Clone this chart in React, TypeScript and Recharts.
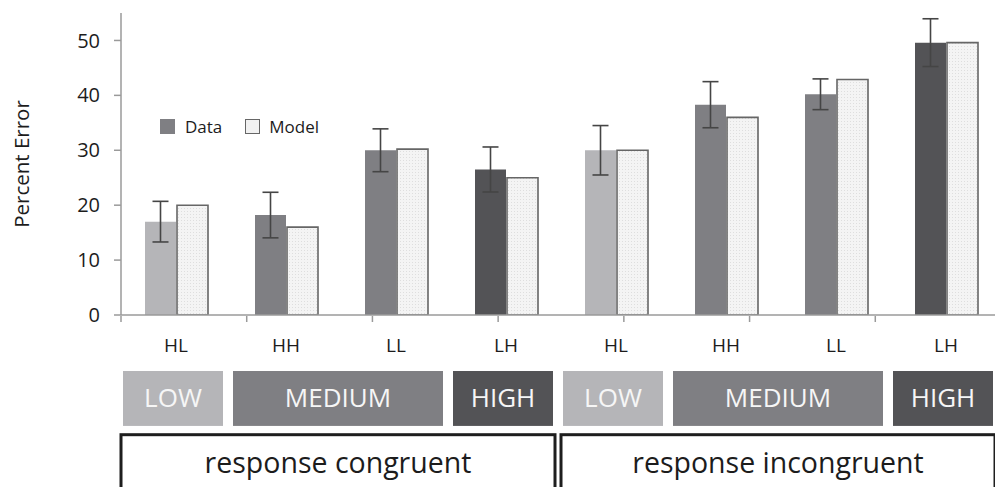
import React from "react";
import { BarChart, Bar, XAxis, YAxis, ErrorBar, Cell, ReferenceArea } from "recharts";

// conditions along the x axis (two blocks of four)
const conditions = ["HL", "HH", "LL", "LH", "HL", "HH", "LL", "LH"];
const loads = ["LOW", "MEDIUM", "MEDIUM", "HIGH", "LOW", "MEDIUM", "MEDIUM", "HIGH"];
const dataValues = [17.0, 18.2, 30.0, 26.5, 30.0, 38.3, 40.2, 49.6];
const dataErrors = [3.7, 4.15, 3.9, 4.1, 4.5, 4.2, 2.8, 4.35];
const modelValues = [20.0, 16.0, 30.2, 25.0, 30.0, 36.0, 42.9, 49.6];
const seriesNames = ["Data", "Model"];
const yTicks = [0, 10, 20, 30, 40, 50];
const edgeTicks = [0, 1, 2, 3, 4, 5, 6, 7, 8];

// load bands and response groups drawn under the axis
const bandLabels = ["LOW", "MEDIUM", "HIGH", "LOW", "MEDIUM", "HIGH"];
const bandFrom = [0, 1, 3, 4, 5, 7];
const bandTo = [0, 2, 3, 4, 6, 7];
const groupLabels = ["response congruent", "response incongruent"];
const groupFrom = [0, 4];
const groupTo = [3, 7];

const loadColor: Record<string, string> = {
  LOW: "#b5b5b8",
  MEDIUM: "#7f7f83",
  HIGH: "#535356",
};

const FONT = "'Open Sans', 'Noto Sans', sans-serif";
const AXIS = "#9a9a9a";
const INK = "#1c1c1c";

const rows = conditions.map((c, i) => ({
  id: `c${i}`,
  label: c,
  load: loads[i],
  data: dataValues[i],
  err: dataErrors[i],
  model: modelValues[i],
}));

const labelOf = (id: string) => rows.find((r) => r.id === id)?.label ?? "";

export default function App() {
  return (
    <div
      style={{
        position: "absolute",
        left: 0,
        top: 0,
        width: 995,
        height: 487,
        overflow: "hidden",
        background: "#fff",
        fontFamily: FONT,
      }}
    >
      <BarChart
        width={1010}
        height={487}
        data={rows}
        margin={{ top: 13, right: 9, bottom: 170, left: 0 }}
        barSize={31}
        barGap={1}
      >
        <defs>
          <pattern id="modelDots" width="3" height="3" patternUnits="userSpaceOnUse">
            <rect width="3" height="3" fill="#f4f4f4" />
            <rect x="1" y="1" width="1" height="1" fill="#dedede" />
          </pattern>
        </defs>
        <XAxis
          xAxisId="edges"
          type="number"
          domain={[0, 8]}
          ticks={edgeTicks}
          allowDataOverflow
          height={1}
          axisLine={false}
          tickLine={{ stroke: AXIS, strokeWidth: 1.5 }}
          tickSize={6}
          tickFormatter={() => ""}
        />
        <XAxis
          xAxisId="cat"
          dataKey="id"
          height={1}
          axisLine={{ stroke: AXIS, strokeWidth: 1.5 }}
          tickLine={false}
          tickSize={6}
          tickMargin={18}
          tickFormatter={labelOf}
          tick={{ fontSize: 19, fill: INK, fontFamily: FONT }}
          interval={0}
        />
        <YAxis
          width={121}
          domain={[0, 55]}
          ticks={yTicks}
          allowDataOverflow
          axisLine={{ stroke: AXIS, strokeWidth: 1.5 }}
          tickLine={{ stroke: AXIS, strokeWidth: 1.5 }}
          tickSize={7}
          tickMargin={14}
          tick={{ fontSize: 20, fill: INK, fontFamily: FONT }}
          label={{
            value: "Percent Error",
            angle: -90,
            position: "insideLeft",
            offset: 22,
            textAnchor: "middle",
            style: { fontSize: 20.5, fill: INK, fontFamily: FONT },
          }}
        />
        <Bar xAxisId="cat" dataKey="data" name={seriesNames[0]} isAnimationActive={false}>
          {rows.map((r) => (
            <Cell key={r.id} fill={loadColor[r.load]} />
          ))}
          <ErrorBar dataKey="err" width={8} stroke="#454545" strokeWidth={1.6} />
        </Bar>
        <Bar
          xAxisId="cat"
          dataKey="model"
          name={seriesNames[1]}
          fill="url(#modelDots)"
          stroke="#666"
          strokeWidth={1.6}
          isAnimationActive={false}
        />
        {bandLabels.map((b, i) => (
          <ReferenceArea
            key={`band-${i}`}
            xAxisId="cat"
            x1={rows[bandFrom[i]].id}
            x2={rows[bandTo[i]].id}
            y1={-10.2}
            y2={-20.2}
            ifOverflow="visible"
            shape={(p: any) => (
              <g>
                <rect
                  x={p.x + 2}
                  y={p.y}
                  width={p.width - 10}
                  height={p.height}
                  fill={loadColor[b]}
                />
                <text
                  x={p.x + 2 + (p.width - 10) / 2}
                  y={p.y + 36}
                  textAnchor="middle"
                  fontSize={26}
                  fill="#f6f6f6"
                  fontFamily={FONT}
                >
                  {b}
                </text>
              </g>
            )}
          />
        ))}
        {groupLabels.map((g, i) => (
          <ReferenceArea
            key={`group-${i}`}
            xAxisId="cat"
            x1={rows[groupFrom[i]].id}
            x2={rows[groupTo[i]].id}
            y1={-21.8}
            y2={-33}
            ifOverflow="visible"
            shape={(p: any) => (
              <g>
                <rect
                  x={p.x + 0}
                  y={p.y}
                  width={p.width - 6}
                  height={p.height}
                  fill="none"
                  stroke="#1e1e1e"
                  strokeWidth={3}
                />
                <text
                  x={p.x + (p.width - 6) / 2}
                  y={p.y + 38}
                  textAnchor="middle"
                  fontSize={28.5}
                  fill={INK}
                  fontFamily={FONT}
                >
                  {g}
                </text>
              </g>
            )}
          />
        ))}
      </BarChart>
      <div
        style={{
          position: "absolute",
          left: 160,
          top: 115,
          display: "flex",
          alignItems: "center",
          fontSize: 17,
          color: INK,
        }}
      >
        <span style={{ width: 15, height: 15, background: loadColor.MEDIUM, display: "inline-block" }} />
        <span style={{ marginLeft: 10, marginRight: 23 }}>{seriesNames[0]}</span>
        <span
          style={{
            width: 13,
            height: 13,
            background: "#f1f1f1",
            border: "1.5px solid #666",
            display: "inline-block",
          }}
        />
        <span style={{ marginLeft: 9 }}>{seriesNames[1]}</span>
      </div>
    </div>
  );
}
